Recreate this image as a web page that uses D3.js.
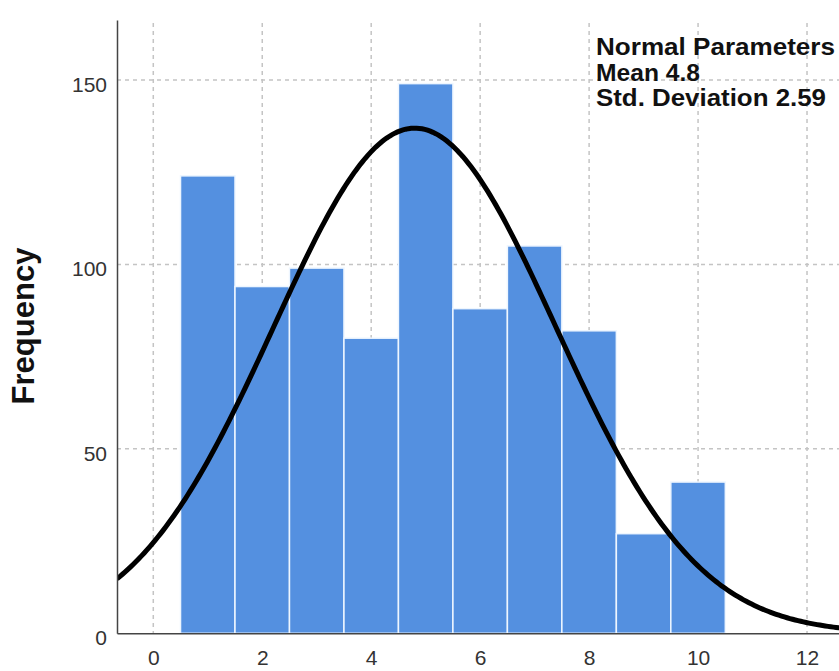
<!DOCTYPE html>
<html>
<head>
<meta charset="utf-8">
<script src="https://cdn.jsdelivr.net/npm/d3@7"></script>
<style>
  body { margin: 0; background: #fff; }
  svg { display: block; font-family: "Liberation Sans", Arial, sans-serif; }
</style>
</head>
<body>
<svg width="839" height="671"></svg>
<script>
// histogram data
const binCenters = [1, 2, 3, 4, 5, 6, 7, 8, 9, 10];
const frequencies = [124, 94, 99, 80, 149, 88, 105, 82, 27, 41];
const xTickValues = [0, 2, 4, 6, 8, 10, 12];
const yTickValues = [0, 50, 100, 150];
const normalMean = 4.8;
const normalSd = 2.59;
const binWidth = 1;
const legendLines = ["Normal Parameters", "Mean 4.8", "Std. Deviation 2.59"];
const legendWidths = [239, 104, 230];

const svg = d3.select("body").select("svg");
const width = +svg.attr("width");
const height = +svg.attr("height");

const margin = { top: 20, left: 117, right: 0, bottom: 37.7 };
const innerW = width - margin.left - margin.right;
const innerH = height - margin.top - margin.bottom;

const xScale = d3.scaleLinear()
  .domain([-0.666, 12.587])
  .range([0, innerW]);

const yScale = d3.scaleLinear()
  .domain([0, 166.25])
  .range([innerH, 0]);

const g = svg.append("g")
  .attr("transform", `translate(${margin.left},${margin.top})`);

svg.append("defs").append("clipPath")
  .attr("id", "plot-clip")
  .append("rect")
  .attr("width", innerW)
  .attr("height", innerH);

// grid
g.selectAll(".vgrid")
  .data(xTickValues)
  .enter()
  .append("line")
  .attr("x1", d => xScale(d))
  .attr("x2", d => xScale(d))
  .attr("y1", 3)
  .attr("y2", innerH)
  .attr("stroke", "#c4c4c4")
  .attr("stroke-width", 1.5)
  .attr("stroke-dasharray", "4,4");

g.selectAll(".hgrid")
  .data(yTickValues.filter(d => d > 0))
  .enter()
  .append("line")
  .attr("x1", 0)
  .attr("x2", innerW)
  .attr("y1", d => yScale(d))
  .attr("y2", d => yScale(d))
  .attr("stroke", "#c4c4c4")
  .attr("stroke-width", 1.5)
  .attr("stroke-dasharray", "4,4");

// bars
g.selectAll("rect.bar")
  .data(binCenters)
  .enter()
  .append("rect")
  .attr("class", "bar")
  .attr("x", d => xScale(d - binWidth / 2))
  .attr("y", (d, i) => yScale(frequencies[i]))
  .attr("width", xScale(binWidth) - xScale(0))
  .attr("height", (d, i) => innerH - yScale(frequencies[i]))
  .attr("fill", "#5490e0")
  .attr("stroke", "#eef6ff")
  .attr("stroke-width", 1.5);

// normal curve scaled to counts
const total = d3.sum(frequencies);
const pdf = x =>
  (total * binWidth) / (normalSd * Math.sqrt(2 * Math.PI)) *
  Math.exp(-((x - normalMean) ** 2) / (2 * normalSd * normalSd));
const curveXs = d3.range(xScale.domain()[0], xScale.domain()[1] + 0.05, 0.05);

g.append("path")
  .datum(curveXs)
  .attr("clip-path", "url(#plot-clip)")
  .attr("d", d3.line().x(d => xScale(d)).y(d => yScale(pdf(d))))
  .attr("fill", "none")
  .attr("stroke", "#000")
  .attr("stroke-width", 5);

// axes
const yAxis = g.append("g")
  .call(d3.axisLeft(yScale).tickValues(yTickValues).tickSize(0).tickSizeOuter(0).tickPadding(10));
yAxis.select(".domain").attr("stroke", "#444").attr("stroke-width", 1.5);
yAxis.selectAll("text")
  .attr("dy", "0.55em")
  .attr("font-size", 21)
  .attr("fill", "#333")
  .attr("font-family", "'Liberation Sans', Arial, sans-serif");

const xAxis = g.append("g")
  .attr("transform", `translate(0,${innerH})`)
  .call(d3.axisBottom(xScale).tickValues(xTickValues).tickSize(0).tickSizeOuter(0).tickPadding(17));
xAxis.select(".domain").attr("stroke", "#444").attr("stroke-width", 1.5);
xAxis.selectAll("text")
  .attr("font-size", 21)
  .attr("fill", "#333")
  .attr("font-family", "'Liberation Sans', Arial, sans-serif");

// y title
svg.append("text")
  .attr("transform", "translate(34,326) rotate(-90)")
  .attr("text-anchor", "middle")
  .attr("font-size", 31)
  .attr("font-weight", "bold")
  .attr("fill", "#111")
  .text("Frequency");

// normal parameters note
svg.append("g")
  .selectAll("text")
  .data(legendLines)
  .enter()
  .append("text")
  .attr("x", 596)
  .attr("y", (d, i) => 55 + i * 25.7)
  .attr("font-size", 23)
  .attr("font-weight", "bold")
  .attr("fill", "#111")
  .attr("textLength", (d, i) => legendWidths[i])
  .attr("lengthAdjust", "spacingAndGlyphs")
  .text(d => d);
</script>
</body>
</html>
